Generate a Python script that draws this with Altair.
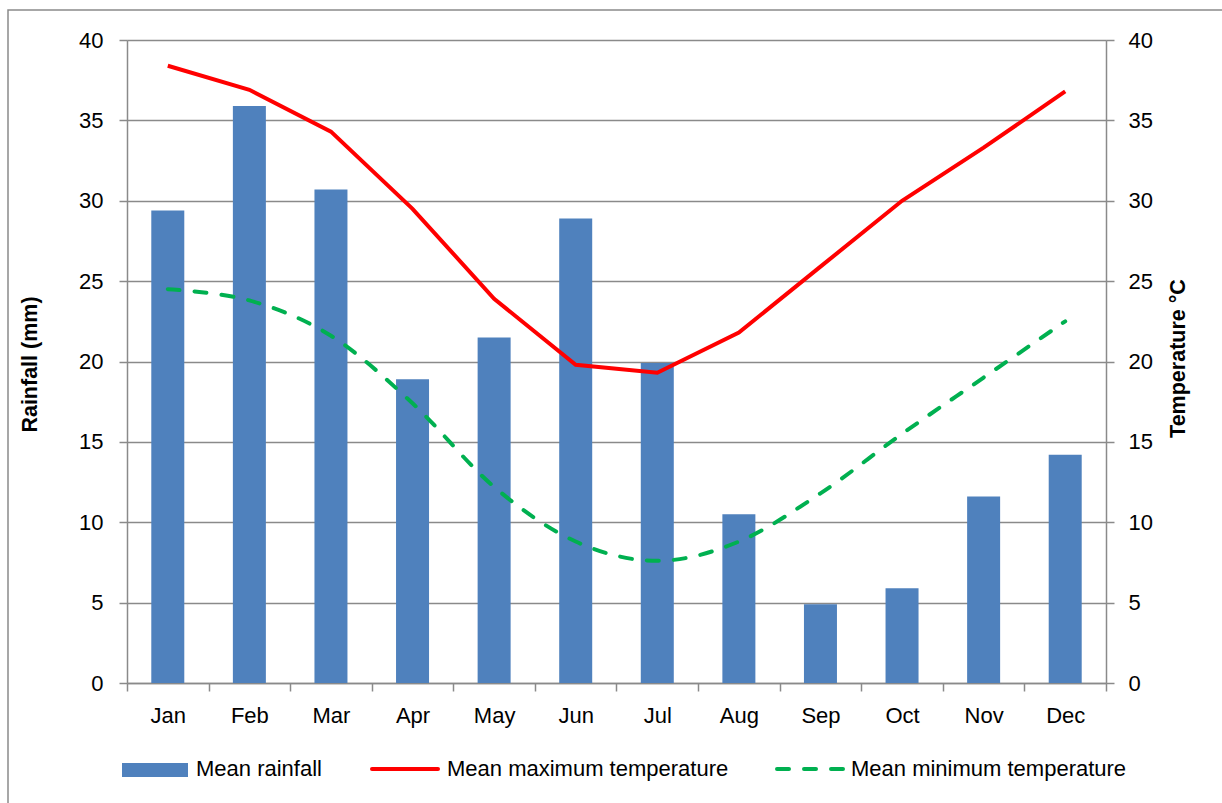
import altair as alt
import pandas as pd

months = ["Jan", "Feb", "Mar", "Apr", "May", "Jun", "Jul", "Aug", "Sep", "Oct", "Nov", "Dec"]
rainfall = [29.4, 35.9, 30.7, 18.9, 21.5, 28.9, 19.9, 10.5, 4.9, 5.9, 11.6, 14.2]
tmax = [38.4, 36.9, 34.3, 29.5, 23.9, 19.8, 19.3, 21.8, 25.9, 30.0, 33.3, 36.8]
tmin = [24.5, 23.8, 21.6, 17.4, 12.2, 8.8, 7.6, 8.8, 11.8, 15.5, 19.0, 22.5]
legend_labels = ["Mean rainfall", "Mean maximum temperature", "Mean minimum temperature"]

df = pd.DataFrame({"month": months, "rain": rainfall, "tmax": tmax, "tmin": tmin})

FONT = "Liberation Sans"
FS = 22
TFS = 21.5
GRAY = "#8a8a8a"
W, H = 979, 643

xenc = alt.X("month:N", sort=months, title=None,
             scale=alt.Scale(paddingInner=0, paddingOuter=0),
             axis=alt.Axis(labelAngle=0, tickBand="extent", tickSize=8, tickColor=GRAY,
                           tickWidth=1.5, domainColor=GRAY, domainWidth=1.5,
                           labelFont=FONT, labelFontSize=FS, labelColor="black",
                           labelPadding=14, grid=False))

yscale = alt.Scale(domain=[0, 40], nice=False, zero=True)

bars = alt.Chart(df).mark_bar(color="#4F81BD", size=33).encode(
    x=xenc,
    y=alt.Y("rain:Q", scale=yscale,
            axis=alt.Axis(orient="left", values=list(range(0, 41, 5)), title="Rainfall (mm)",
                          grid=True, gridColor=GRAY, gridWidth=1.5,
                          domainColor=GRAY, domainWidth=1.5, tickColor=GRAY, tickWidth=1.5,
                          tickSize=8, labelFont=FONT, labelFontSize=FS, labelColor="black",
                          labelPadding=16, titleFont=FONT, titleFontSize=TFS, titleFontWeight="bold",
                          titleColor="black", titleAngle=270, titleX=-97, titleY=324,
                          titleAlign="center", titleBaseline="middle")),
)

raxis = alt.Axis(orient="right", values=list(range(0, 41, 5)), title="Temperature °C",
                 grid=False, domainColor=GRAY, domainWidth=1.5, tickColor=GRAY, tickWidth=1.5,
                 tickSize=8, labelFont=FONT, labelFontSize=FS, labelColor="black",
                 labelPadding=14, titleFont=FONT, titleFontSize=TFS, titleFontWeight="bold",
                 titleColor="black", titleAngle=270, titleX=72, titleY=318,
                 titleAlign="center", titleBaseline="middle")

red = alt.Chart(df).mark_line(color="#FF0000", strokeWidth=4).encode(
    x=xenc, y=alt.Y("tmax:Q", scale=yscale, axis=raxis))
green = alt.Chart(df).mark_line(color="#00B050", strokeWidth=4, strokeDash=[12, 15],
                                strokeCap="round", interpolate="cardinal").encode(
    x=xenc, y=alt.Y("tmin:Q", scale=yscale, axis=raxis))

temps = alt.layer(red, green)
main = alt.layer(bars, temps).resolve_scale(y="independent")

one = pd.DataFrame({"k": [0]})
border = alt.Chart(one).mark_rect(fillOpacity=0, stroke=GRAY, strokeWidth=1.5).encode(
    x=alt.value(-119), x2=alt.value(1110), y=alt.value(-30), y2=alt.value(790))

leg_rect = alt.Chart(one).mark_rect(color="#4F81BD").encode(
    x=alt.value(-5), x2=alt.value(61), y=alt.value(723), y2=alt.value(737))
leg_red = alt.Chart(one).mark_rule(color="#FF0000", strokeWidth=4, strokeCap="round").encode(
    x=alt.value(245), x2=alt.value(311), y=alt.value(729))
leg_green = alt.Chart(one).mark_rule(color="#00B050", strokeWidth=4, strokeDash=[12, 15],
                                     strokeCap="round").encode(
    x=alt.value(650), x2=alt.value(718), y=alt.value(729))

leg_text_df = pd.DataFrame({"label": legend_labels, "px": [69, 320, 724]})
leg_text = alt.Chart(leg_text_df).mark_text(font=FONT, fontSize=FS, align="left",
                                            baseline="middle", color="black").encode(
    x=alt.X("px:Q", scale=None), y=alt.value(729), text="label:N")

chart = alt.layer(main, border, leg_rect, leg_red, leg_green, leg_text).properties(
    width=W, height=H,
    autosize=alt.AutoSizeParams(type="none"),
    padding={"left": 127, "top": 40, "right": 116, "bottom": 120},
).configure_view(stroke=None).configure(background="white")

chart.save("out.html", embed_options={"renderer": "svg", "actions": False})
